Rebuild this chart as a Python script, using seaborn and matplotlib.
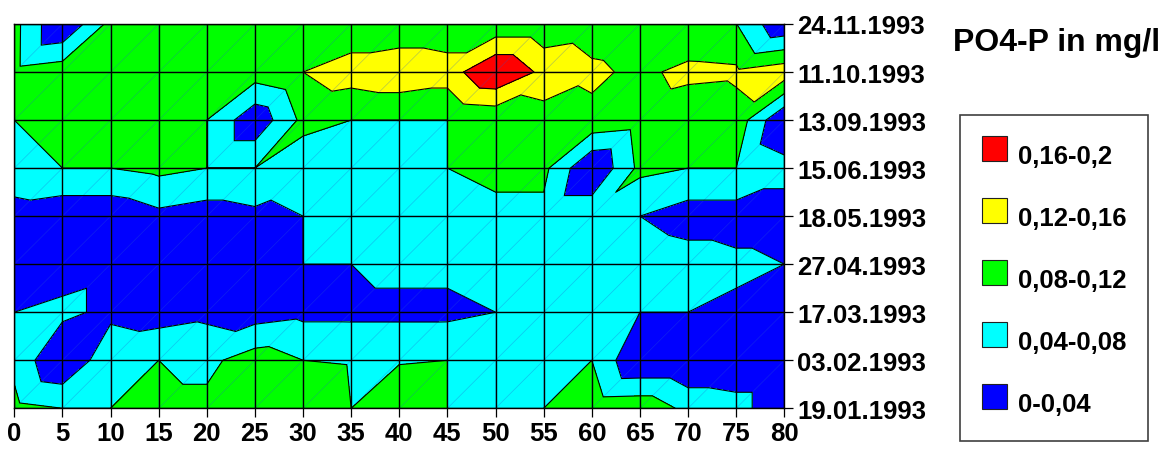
import numpy as np
import matplotlib
matplotlib.use("Agg")
import matplotlib.pyplot as plt
import matplotlib.tri as mtri
from matplotlib.patches import Rectangle
import seaborn as sns

# Distance along the transect (x) and sampling dates (rows, bottom to top)
distance = [0, 5, 10, 15, 20, 25, 30, 35, 40, 45, 50, 55, 60, 65, 70, 75, 80]
dates = ["19.01.1993", "03.02.1993", "17.03.1993", "27.04.1993", "18.05.1993",
         "15.06.1993", "13.09.1993", "11.10.1993", "24.11.1993"]

# PO4-P in mg/l, one list per sampling date
po4_1901 = [0.09, 0.08, 0.08, 0.09, 0.09, 0.10, 0.09, 0.08, 0.09, 0.08, 0.06, 0.08, 0.105, 0.108, 0.07, 0.06, 0.0]
po4_0302 = [0.07, 0.0, 0.07, 0.08, 0.07, 0.10, 0.08, 0.079, 0.079, 0.08, 0.06, 0.06, 0.08, 0.0, 0.0, 0.0, 0.0]
po4_1703 = [0.04, 0.05, 0.03, 0.02, 0.03, 0.02, 0.03, 0.03, 0.03, 0.03, 0.04, 0.05, 0.06, 0.04, 0.04, 0.03, 0.02]
po4_2704 = [0.02, 0.02, 0.03, 0.02, 0.02, 0.02, 0.04, 0.04, 0.05, 0.05, 0.06, 0.06, 0.06, 0.07, 0.06, 0.05, 0.04]
po4_1805 = [0.02, 0.01, 0.01, 0.03, 0.02, 0.03, 0.04, 0.05, 0.04, 0.06, 0.07, 0.07, 0.07, 0.04, 0.02, 0.02, 0.02]
po4_1506 = [0.07, 0.08, 0.08, 0.09, 0.08, 0.08, 0.06, 0.06, 0.06, 0.08, 0.09, 0.09, 0.0, 0.09, 0.08, 0.08, 0.055]
po4_1309 = [0.08, 0.09, 0.09, 0.08, 0.08, 0.01, 0.09, 0.08, 0.08, 0.08, 0.087, 0.10, 0.11, 0.10, 0.089, 0.105, 0.0]
po4_1110 = [0.091, 0.103, 0.10, 0.10, 0.10, 0.10, 0.12, 0.14, 0.15, 0.14, 0.20, 0.15, 0.128, 0.111, 0.131, 0.127, 0.145]
po4_2411 = [0.092, 0.0, 0.092, 0.10, 0.10, 0.10, 0.10, 0.09, 0.09, 0.09, 0.09, 0.09, 0.10, 0.095, 0.083, 0.081, 0.005]

levels = [0, 0.04, 0.08, 0.12, 0.16, 0.2]
band_colors = ["#0000FF", "#00FFFF", "#00FF00", "#FFFF00", "#FF0000"]
band_labels = ["0-0,04", "0,04-0,08", "0,08-0,12", "0,12-0,16", "0,16-0,2"]

sns.set_theme(style="ticks")
plt.rcParams["font.family"] = ["Liberation Sans", "DejaVu Sans"]
plt.rcParams["font.weight"] = "bold"
plt.rcParams["text.color"] = "black"

W, H = 1163, 452
fig = plt.figure(figsize=(W / 100, H / 100), dpi=100)
ax = fig.add_axes([14.3 / W, (H - 409.3) / H, 770 / W, 384.3 / H])

z = np.array([po4_1901, po4_0302, po4_1703, po4_2704, po4_1805,
              po4_1506, po4_1309, po4_1110, po4_2411])
x = np.array(distance, dtype=float)
rows = np.arange(len(dates), dtype=float)
X, Y = np.meshgrid(x, rows)

# each grid cell is split along its bottom-left to top-right diagonal
nx, ny = len(x), len(rows)
triangles = []
for i in range(ny - 1):
    for j in range(nx - 1):
        bl = i * nx + j
        br = bl + 1
        tl = bl + nx
        tr = tl + 1
        triangles.append([tl, tr, bl])
        triangles.append([bl, br, tr])
tri = mtri.Triangulation(X.ravel(), Y.ravel(), triangles)

ax.tricontourf(tri, z.ravel(), levels=levels, colors=band_colors, zorder=1)
ax.triplot(tri, color="#2a5bd0", lw=0.5, alpha=0.35, zorder=2)
ax.tricontour(tri, z.ravel(), levels=levels[1:-1], colors="black",
              linewidths=0.8, zorder=3)

ax.set_xlim(x[0], x[-1])
ax.set_ylim(rows[0], rows[-1])
ax.set_xticks(x, [str(d) for d in distance])
ax.yaxis.tick_right()
ax.set_yticks(rows, dates)
ax.grid(True, color="black", lw=1.0)
ax.set_axisbelow(False)
for s in ax.spines.values():
    s.set_color("black")
    s.set_linewidth(1.0)
    s.set_zorder(5)
ax.tick_params(axis="both", direction="out", length=6.5, width=0.9,
               color="black", labelsize=18.5, labelcolor="black")
ax.tick_params(axis="x", pad=3)
ax.tick_params(axis="y", pad=3)
for lab in ax.get_xticklabels() + ax.get_yticklabels():
    lab.set_fontweight("bold")

# title and legend drawn in pixel coordinates of the figure
ov = fig.add_axes([0, 0, 1, 1], facecolor="none")
ov.set_xlim(0, W)
ov.set_ylim(H, 0)
ov.axis("off")
ov.text(953, 51, "PO4-P in mg/l", fontsize=23, fontweight="bold",
        color="black", va="baseline", ha="left")
ov.add_patch(Rectangle((960, 115.7), 188, 326, fill=False,
                       edgecolor="#404040", lw=1.2))
for k, (lab, col) in enumerate(zip(band_labels[::-1], band_colors[::-1])):
    top = 136.7 + 62 * k
    ov.add_patch(Rectangle((982, top), 25, 25.5, facecolor=col,
                           edgecolor="#222222", lw=0.8))
    ov.text(1018, top + 27, lab, fontsize=18.5, fontweight="bold",
            color="black", va="baseline", ha="left")

fig.savefig("out.png", dpi=100)
